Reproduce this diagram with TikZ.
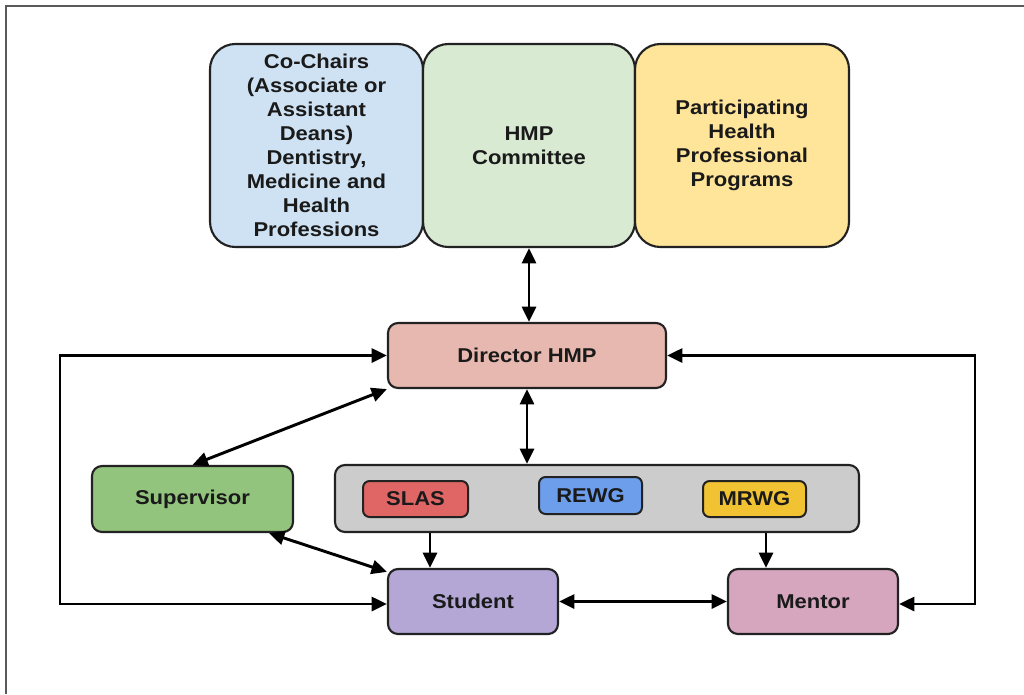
\documentclass[tikz,border=0pt]{standalone}
\usepackage{fontspec}
\setmainfont{Liberation Sans}[FakeStretch=1.1]
\usetikzlibrary{arrows.meta}
\definecolor{cBlue}{HTML}{CFE2F3}
\definecolor{cGreenL}{HTML}{D9EAD3}
\definecolor{cYellowL}{HTML}{FFE599}
\definecolor{cDir}{HTML}{E6B8AF}
\definecolor{cSup}{HTML}{93C47D}
\definecolor{cGray}{HTML}{CCCCCC}
\definecolor{cSlas}{HTML}{E06666}
\definecolor{cRewg}{HTML}{6D9EEB}
\definecolor{cMrwg}{HTML}{F1C232}
\definecolor{cStu}{HTML}{B4A7D6}
\definecolor{cMen}{HTML}{D5A6BD}
\definecolor{cLine}{HTML}{222222}
\definecolor{cText}{HTML}{1A1A1A}
\tikzset{
  bigbox/.style={draw=cLine, line width=1.6pt, rounded corners=19pt, inner sep=0pt,
    minimum height=152.25pt, text=cText, font=\fontsize{15}{18}\selectfont\bfseries, align=center},
  box/.style={draw=cLine, line width=1.6pt, rounded corners=7.5pt, inner sep=0pt,
    minimum height=48.75pt, text=cText, font=\fontsize{15}{18}\selectfont\bfseries},
  tag/.style={draw=cLine, line width=1.5pt, rounded corners=5pt, inner sep=0pt,
    minimum width=77.25pt, minimum height=27pt, text=cText, font=\fontsize{15}{18}\selectfont\bfseries},
  conn/.style={line width=2.2pt, draw=black, {Triangle[length=11.5pt,width=10.5pt]}-{Triangle[length=11.5pt,width=10.5pt]}},
  oneway/.style={line width=2.2pt, draw=black, -{Triangle[length=11.5pt,width=10.5pt]}},
  frameline/.style={draw=black!65, line width=0.8pt}
}
\begin{document}
\begin{tikzpicture}[x=0.75pt, y=-0.75pt]
\useasboundingbox (0,0) rectangle (1024,694);
% frame (top and left edges)
\coordinate (f1) at (6,694);
\coordinate (f2) at (6,6);
\coordinate (f3) at (1024,6);
\draw[frameline] (f1) -- (f2) -- (f3);

% top boxes
\node[bigbox, fill=cBlue, minimum width=159.75pt] (cochair) at (316.5,145.5) {Co-Chairs\\(Associate or\\Assistant\\Deans)\\Dentistry,\\Medicine and\\Health\\Professions};
\node[bigbox, fill=cGreenL, minimum width=159pt] (hmp) at (529,145.5) {HMP\\Committee};
\node[bigbox, fill=cYellowL, minimum width=160.5pt] (part) at (742,145.5) {Participating\\Health\\Professional\\Programs};

% middle
\node[box, fill=cDir, minimum width=208.5pt] (director) at (527,355.5) {Director HMP};
\node[box, fill=cSup, minimum width=150.75pt, minimum height=49.5pt] (supervisor) at (192.5,499) {Supervisor};
\node[box, fill=cGray, minimum width=393pt, minimum height=50.25pt] (gray) at (597,498.5) {};
\node[tag, fill=cSlas, minimum width=78.75pt] (slas) at (415.5,499) {SLAS};
\node[tag, fill=cRewg, minimum height=27.75pt] (rewg) at (590.5,495.5) {REWG};
\node[tag, fill=cMrwg] (mrwg) at (754.5,499) {MRWG};

% bottom
\node[box, fill=cStu, minimum width=127.5pt] (student) at (473,601.5) {Student};
\node[box, fill=cMen, minimum width=127.5pt] (mentor) at (813,601.5) {Mentor};

% helper coordinates
\coordinate (xa) at (430,0);
\coordinate (xb) at (766,0);
\coordinate (lc1) at (60,355.5);
\coordinate (lc2) at (60,604);
\coordinate (rc1) at (975,355.5);
\coordinate (rc2) at (975,604);

% connectors
\draw[conn] (hmp.south) -- (hmp.south |- director.north);
\draw[conn] (director.south) -- (director.south |- gray.north);
\draw[conn] (director.south west) -- (supervisor.north);
\draw[conn] (supervisor.-24.5) -- (student.161);
\draw[oneway] (gray.south -| xa) -- (student.north -| xa);
\draw[oneway] (gray.south -| xb) -- (mentor.north -| xb);
\draw[conn] (student.east) -- (mentor.west);
\draw[conn] (director.west) -- (lc1) -- (lc2) -- (student.west |- lc2);
\draw[conn] (director.east) -- (rc1) -- (rc2) -- (mentor.east |- rc2);
\end{tikzpicture}
\end{document}
